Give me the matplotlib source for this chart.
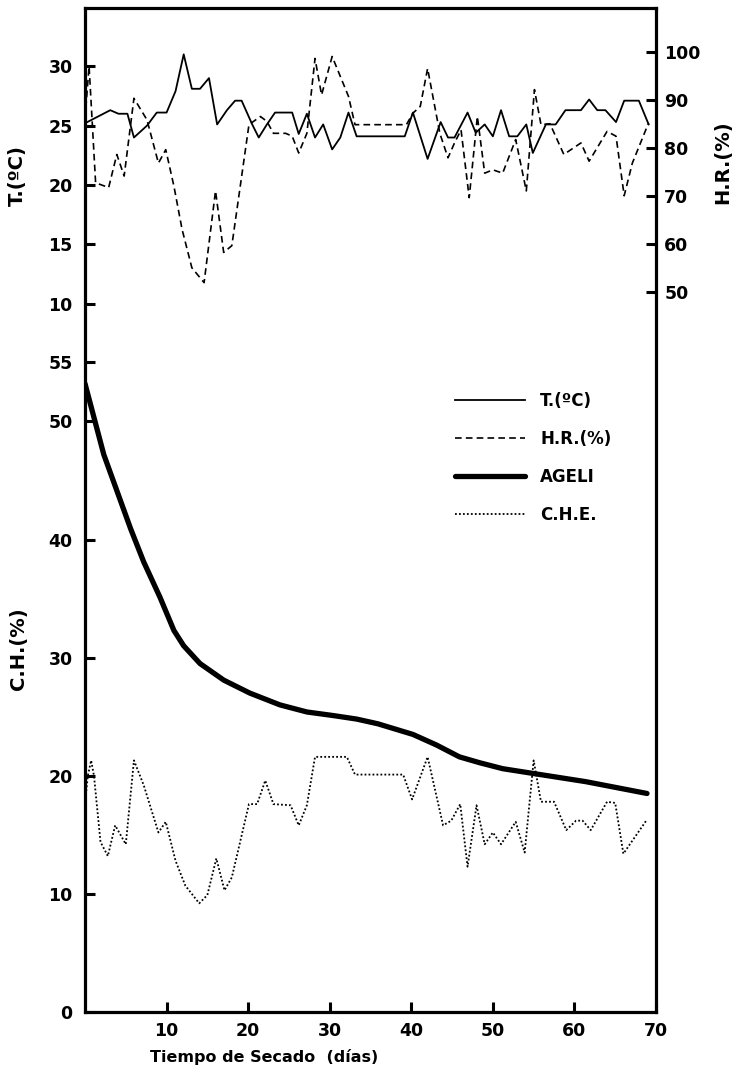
import matplotlib
matplotlib.use("Agg")
import matplotlib.pyplot as plt

# datos (día de secado, valor)
t_dias = [0, 3.1, 4.1, 5.2, 6.0, 7.6, 8.8, 10.0, 11.1, 12.1, 13.1, 14.1, 15.2, 16.2,
          17.4, 18.4, 19.2, 20.5, 21.3, 22.3, 23.3, 25.4, 26.2, 27.2, 28.2, 29.2,
          30.3, 31.3, 32.3, 33.3, 39.2, 40.2, 42.0, 43.6, 44.5, 45.3, 46.9, 47.9,
          49.0, 50.0, 51.0, 52.0, 53.0, 54.1, 54.9, 56.5, 57.7, 58.9, 60.8, 61.8,
          62.8, 63.8, 65.1, 66.1, 67.9, 69.1]
t_vals = [25.2, 26.3, 26.0, 26.0, 24.0, 25.0, 26.1, 26.1, 27.9, 31.0, 28.1, 28.1, 29.0, 25.1,
          26.3, 27.1, 27.1, 25.1, 24.0, 25.1, 26.1, 26.1, 24.3, 26.0, 24.0, 25.1,
          23.0, 24.0, 26.1, 24.1, 24.1, 26.1, 22.2, 25.3, 24.0, 24.0, 26.1, 24.4,
          25.1, 24.1, 26.3, 24.1, 24.1, 25.1, 22.7, 25.1, 25.1, 26.3, 26.3, 27.2,
          26.3, 26.3, 25.3, 27.1, 27.1, 25.1]

hr_dias = [0, 0.5, 1.3, 2.9, 3.9, 4.8, 6.0, 7.6, 9.0, 9.9, 10.9, 11.9, 13.1, 14.6,
           16.0, 17.0, 18.0, 20.1, 21.5, 22.3, 23.1, 24.6, 25.4, 26.2, 27.2, 28.2,
           29.0, 30.3, 32.3, 33.1, 39.4, 40.2, 41.1, 42.0, 43.5, 44.5, 45.3, 46.1,
           47.1, 48.1, 49.0, 50.0, 51.2, 52.8, 54.1, 55.1, 55.9, 57.0, 58.7, 60.8,
           61.8, 64.0, 65.1, 66.1, 67.1, 69.1]
hr_vals = [86, 97, 72.7, 71.7, 78.6, 74.1, 90.3, 85.8, 76.8, 79.6, 72, 63, 55, 51.9,
           71, 58.2, 59.6, 84.8, 86.5, 85.5, 83, 83, 82.4, 78.9, 83, 98.6,
           91, 99, 90.7, 84.8, 84.8, 87.2, 88.6, 96.5, 83, 77.9, 81, 83.7,
           69.6, 86.5, 74.7, 75.4, 74.7, 81.7, 71, 92.1, 84.8, 85, 78.6, 81,
           77.2, 83.4, 82.4, 70, 76.8, 85.2]

che_dias = [0, 0.35, 0.75, 1.1, 1.9, 2.8, 3.7, 5.0, 6.0, 7.2, 9.0, 9.9, 11.1, 12.3,
            14.0, 15.0, 16.1, 17.1, 18.0, 20.1, 21.1, 22.1, 23.1, 25.2, 26.2, 27.2,
            28.2, 32.1, 33.1, 39.0, 40.1, 42.0, 43.9, 44.9, 46.0, 46.9, 48.0, 49.0,
            50.0, 51.0, 52.8, 53.9, 55.0, 55.9, 57.5, 59.0, 60.2, 61.0, 62.0, 64.0,
            65.0, 66.0, 68.9]
che_vals = [17.7, 20, 21.3, 20, 14.4, 13.2, 15.8, 14.2, 21.3, 19.2, 15.2, 16.1, 12.8, 10.7,
            9.2, 9.9, 13.0, 10.3, 11.4, 17.6, 17.6, 19.6, 17.6, 17.5, 15.8, 17.5,
            21.6, 21.6, 20.1, 20.1, 18.0, 21.6, 15.8, 16.2, 17.6, 12.3, 17.5, 14.2,
            15.2, 14.2, 16.1, 13.5, 21.3, 17.8, 17.8, 15.4, 16.2, 16.2, 15.4, 17.8,
            17.7, 13.4, 16.3]

ageli_dias = [0, 2.3, 5.6, 7.2, 9.2, 10.9, 12.1, 14.1, 17.0, 20.2, 23.9, 27.2,
              30.4, 33.3, 35.9, 40.2, 43.1, 45.9, 48.4, 51.2, 54.9, 61.4, 68.9]
ageli_vals = [53.2, 47.2, 40.9, 38.1, 35.1, 32.3, 31.0, 29.5, 28.1, 27.0, 26.0, 25.4,
              25.1, 24.8, 24.4, 23.5, 22.6, 21.6, 21.1, 20.6, 20.2, 19.5, 18.5]

plt.rcParams['font.family'] = ['DejaVu Sans']
plt.rcParams['font.weight'] = 'bold'

W, H = 738, 1077
fig = plt.figure(figsize=(W / 100, H / 100), dpi=100)
ax = fig.add_axes([85 / W, 1 - 1012 / H, 571 / W, 1004 / H])
ax_t = ax.twinx()
ax_hr = ax.twinx()

fs = 12.5
lw_spine = 2.3

# curvas inferiores (C.H.)
l_ageli, = ax.plot(ageli_dias, ageli_vals, color='black', lw=3.8, solid_capstyle='round',
                   solid_joinstyle='round', label='AGELI')
l_che, = ax.plot(che_dias, che_vals, color='black', lw=1.3, linestyle=(0, (1, 1.2)),
                 label='C.H.E.')
# curvas superiores
l_t, = ax_t.plot(t_dias, t_vals, color='black', lw=1.3, label='T.(ºC)')
l_hr, = ax_hr.plot(hr_dias, hr_vals, color='black', lw=1.2, linestyle=(0, (4, 2.5)),
                   label='H.R.(%)')

ax.set_xlim(0, 70)
ax.set_ylim(0, 85)
ax_t.set_ylim(-49.6, 34.9)
ax_hr.set_ylim(-100, 109.1)

for s in ax.spines.values():
    s.set_linewidth(lw_spine)
for a in (ax_t, ax_hr):
    for s in a.spines.values():
        s.set_visible(False)

ax.set_xticks([10, 20, 30, 40, 50, 60, 70])
ax.set_yticks([0, 10, 20, 30, 40, 50, 55])
ax.tick_params(axis='both', direction='in', length=7, width=2.2, labelsize=fs, pad=9)
ax.tick_params(axis='x', pad=7)

ax_t.yaxis.tick_left()
ax_t.set_yticks([10, 15, 20, 25, 30])
ax_t.tick_params(axis='y', direction='in', length=7, width=2.2, labelsize=fs, pad=9)

ax_hr.set_yticks([50, 60, 70, 80, 90, 100])
ax_hr.tick_params(axis='y', direction='in', length=7, width=2.2, labelsize=fs, pad=6)

for a in (ax, ax_t, ax_hr):
    for lab in a.get_xticklabels() + a.get_yticklabels():
        lab.set_fontweight('bold')

lab_fs = 14
fig.text(17 / W, 1 - 176 / H, 'T.(ºC)', rotation=90, ha='center', va='center',
         fontsize=lab_fs, fontweight='bold')
fig.text(18 / W, 1 - 649 / H, 'C.H.(%)', rotation=90, ha='center', va='center',
         fontsize=lab_fs, fontweight='bold')
fig.text(723 / W, 1 - 162 / H, 'H.R.(%)', rotation=90, ha='center', va='center',
         fontsize=lab_fs, fontweight='bold')
fig.text(264 / W, 1 - 1057 / H, 'Tiempo de Secado  (días)', ha='center', va='center',
         fontsize=11.5, fontweight='bold')

ax.legend([l_t, l_hr, l_ageli, l_che], ['T.(ºC)', 'H.R.(%)', 'AGELI', 'C.H.E.'],
          loc='upper left', bbox_to_anchor=((455 - 85) / 571, (1012 - 392) / 1004),
          frameon=False, borderpad=0, borderaxespad=0, handlelength=4.2,
          handletextpad=0.9, labelspacing=1.2, prop={'size': 12, 'weight': 'bold'})

fig.savefig('out.png', dpi=100)
